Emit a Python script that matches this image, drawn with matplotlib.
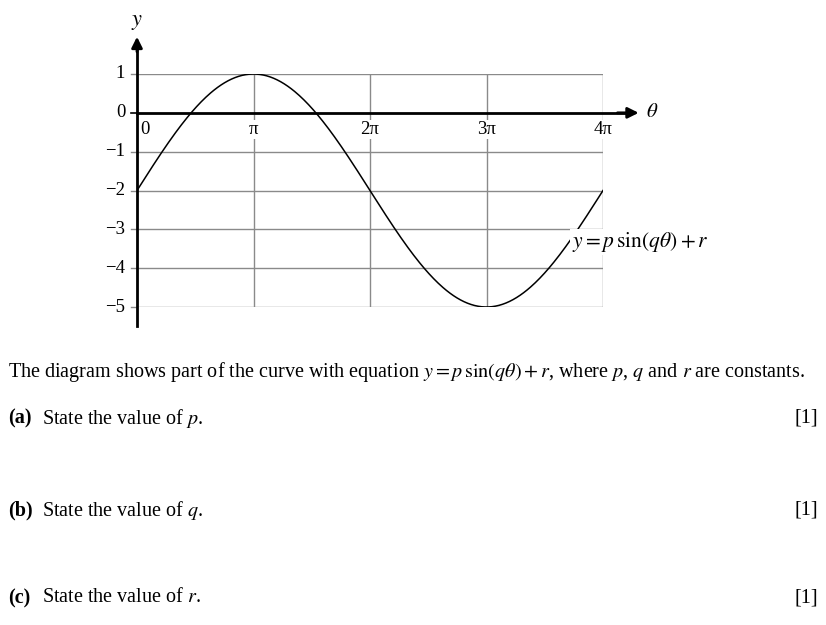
import numpy as np
from matplotlib import pyplot as plt

plt.rcParams["font.family"] = ["Liberation Serif", "DejaVu Serif"]
plt.rcParams["mathtext.fontset"] = "stix"

# constants: y = p sin(q*theta) + r
p = 3
q = 0.5
r = -2
theta_max = 4 * np.pi

x_ticks = [np.pi, 2 * np.pi, 3 * np.pi, 4 * np.pi]
x_labels = ["π", "2π", "3π", "4π"]
y_ticks = [1, 0, -1, -2, -3, -4, -5]
y_labels = ["1", "0", "−1", "−2", "−3", "−4", "−5"]

W, H = 826, 625
fig = plt.figure(figsize=(W / 100, H / 100), dpi=100)


def fx(px):
    return px / W


def fy(py):
    return 1 - py / H


ax = fig.add_axes([fx(137), fy(307), fx(603) - fx(137), fy(74) - fy(307)])
ax.set_xlim(0, theta_max)
ax.set_ylim(-5, 1)
for s in ax.spines.values():
    s.set_visible(False)
ax.set_xticks([])
ax.set_yticks([])

grid_col = "#8a8a8a"
tick_len = 0.17  # little ticks left of the y axis

# grid
for xt in x_ticks:
    ax.plot([xt, xt], [-5, 1], color=grid_col, lw=1, zorder=1)
for yt in y_ticks:
    col = "k" if yt == 0 else grid_col
    ax.plot([-tick_len, 0], [yt, yt], color=col, lw=1.2 if yt == 0 else 1,
            clip_on=False, zorder=1)
    if yt != 0:
        ax.plot([0, theta_max], [yt, yt], color=grid_col, lw=1, zorder=1)

# axes with arrows
ax.plot([0, 0], [-5.5, 1.7], color="k", lw=2, clip_on=False, zorder=3)
ax.annotate("", xy=(0, 2.03), xytext=(0, 1.5),
            arrowprops=dict(arrowstyle="-|>", color="k", lw=2, mutation_scale=16),
            annotation_clip=False)
ax.plot([0, 4.2 * np.pi], [0, 0], color="k", lw=2, clip_on=False, zorder=3)
ax.annotate("", xy=(4.33 * np.pi, 0), xytext=(4.1 * np.pi, 0),
            arrowprops=dict(arrowstyle="-|>", color="k", lw=2, mutation_scale=16),
            annotation_clip=False)

# curve
theta = np.linspace(0, theta_max, 400)
ax.plot(theta, p * np.sin(q * theta) + r, color="k", lw=1.1, zorder=2)

# tick labels
lab_fs = 13.5
for yt, lab in zip(y_ticks, y_labels):
    ax.annotate(lab, (0, yt), xytext=(-8.5, 0), textcoords="offset points",
                ha="right", va="center", fontsize=lab_fs, annotation_clip=False)
ax.annotate("0", (0, 0), xytext=(2.5, -12), textcoords="offset points",
            ha="left", va="center", fontsize=lab_fs)
for xt, lab in zip(x_ticks, x_labels):
    ax.annotate(lab, (xt, 0), xytext=(0, -12), textcoords="offset points",
                ha="center", va="center", fontsize=lab_fs, zorder=4,
                bbox=dict(facecolor="white", edgecolor="none", pad=0.5))

ax.annotate("$y$", (0, 2.03), xytext=(0, 8), textcoords="offset points",
            ha="center", va="center", fontsize=16, annotation_clip=False)
ax.text(4.37 * np.pi, 0, r"$\theta$", ha="left", va="center", fontsize=15)
ax.text(3.73 * np.pi, -3.33, r"$y = p\,\sin(q\theta) + r$", ha="left", va="center",
        fontsize=15.5, bbox=dict(facecolor="white", edgecolor="none", pad=1), zorder=4)

# question text
fs = 14.5
fig.text(fx(8), fy(372), r"The diagram shows part of the curve with equation $y = p\,\sin(q\theta) + r$, "
         r"where $p$, $q$ and $r$ are constants.", ha="left", va="center", fontsize=fs)
rows = [("(a)", "State the value of $p$.", 418),
        ("(b)", "State the value of $q$.", 510),
        ("(c)", "State the value of $r$.", 598)]
for tag, txt, py in rows:
    fig.text(fx(8), fy(py), tag, ha="left", va="center", fontsize=fs, fontweight="bold")
    fig.text(fx(42), fy(py), txt, ha="left", va="center", fontsize=fs)
    fig.text(fx(818), fy(py), "[1]", ha="right", va="center", fontsize=fs)

fig.savefig("out.png", dpi=100)
